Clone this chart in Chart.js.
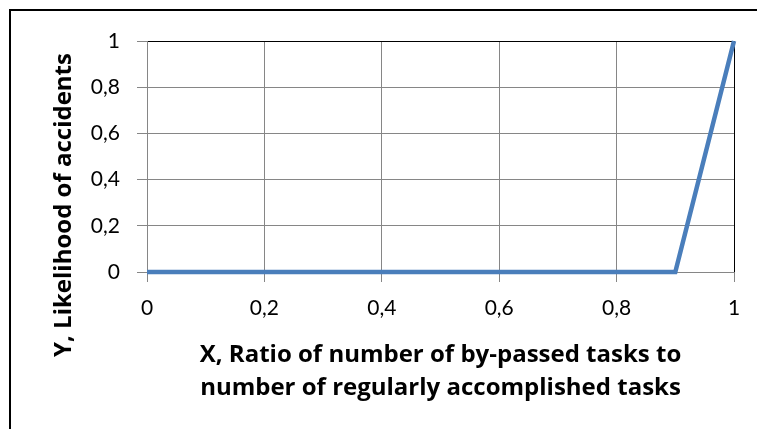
<!DOCTYPE html>
<html lang="en">
  <head>
    <meta charset="UTF-8" />
    <title>Likelihood of accidents</title>
    <script src="https://cdn.jsdelivr.net/npm/chart.js"></script>
    <style>
      html, body { margin: 0; padding: 0; background: #fff; }
    </style>
  </head>
  <body>
    <canvas id="chart" width="757" height="429"></canvas>
    <script>
      // values
      const xValues = [0, 0.9, 1];
      const yValues = [0, 0, 1];
      const tickLabels = ["0", "0,2", "0,4", "0,6", "0,8", "1"];
      const xTitle = ["X, Ratio of number of by-passed tasks to", "number of regularly accomplished tasks"];
      const yTitle = "Y, Likelihood of accidents";

      const points = xValues.map((x, i) => ({ x: x, y: yValues[i] }));
      const titleFont = "'Open Sans'";

      // outer frame and the rotated y title
      const extras = {
        id: "extras",
        afterDraw(chart) {
          const c = chart.ctx;
          c.save();
          c.strokeStyle = "#000";
          c.lineWidth = 2;
          c.beginPath();
          c.moveTo(10, 800);
          c.lineTo(10, 10);
          c.lineTo(800, 10);
          c.stroke();

          c.translate(64, 205);
          c.rotate(-Math.PI / 2);
          c.font = "bold 24px " + titleFont;
          c.fillStyle = "#000";
          c.textAlign = "center";
          c.textBaseline = "middle";
          c.fillText(yTitle, 0, 0);
          c.restore();
        },
      };

      const gridColor = (ctx) => (ctx.tick && ctx.tick.value === 1 ? "#000" : "#868686");

      new Chart(document.getElementById("chart"), {
        type: "line",
        data: {
          datasets: [
            {
              data: points,
              borderColor: "#4A7EBB",
              borderWidth: 4.5,
              pointRadius: 0,
              tension: 0,
              clip: false,
            },
          ],
        },
        options: {
          responsive: false,
          animation: false,
          layout: { padding: { top: 41, right: 23, left: 0, bottom: 0 } },
          plugins: { legend: { display: false }, tooltip: { enabled: false } },
          scales: {
            x: {
              type: "linear",
              min: 0,
              max: 1,
              afterFit: (s) => { s.height = 157; },
              ticks: {
                stepSize: 0.2,
                padding: 14,
                color: "#000",
                font: { family: "Lato", size: 21 },
                maxRotation: 0,
                callback: (v, i) => tickLabels[i],
              },
              grid: { color: gridColor, tickColor: "#868686", tickLength: 10 },
              border: { color: "#868686" },
              title: {
                display: true,
                text: xTitle,
                color: "#000",
                font: { family: titleFont, size: 24, weight: "bold", lineHeight: 1.375 },
                padding: { top: 0, bottom: 24 },
              },
            },
            y: {
              min: 0,
              max: 1,
              afterFit: (s) => { s.width = 147; },
              ticks: {
                stepSize: 0.2,
                padding: 17,
                color: "#000",
                font: { family: "Lato", size: 21 },
                callback: (v, i) => tickLabels[i],
              },
              grid: { color: gridColor, tickColor: "#868686", tickLength: 10 },
              border: { color: "#868686" },
            },
          },
        },
        plugins: [extras],
      });
    </script>
  </body>
</html>
